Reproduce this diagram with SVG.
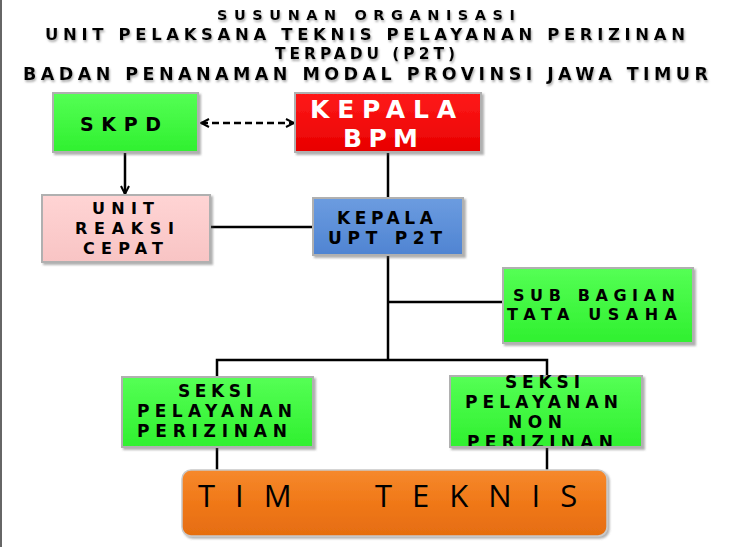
<svg xmlns="http://www.w3.org/2000/svg" width="739" height="547" viewBox="0 0 739 547">
<style>
  .t { font-family: "DejaVu Sans", "Liberation Sans", sans-serif; font-weight: bold; fill: #000; }
  .w { fill: #fff; }
  .title { filter: url(#tsh); }
  .box { stroke: #b0b0b0; stroke-width: 2; filter: url(#bsh); }
  .line { stroke: #000; stroke-width: 2.5; fill: none; }
  .tim { font-family: "Open Sans", "Liberation Sans", sans-serif; font-weight: normal; font-size: 31px; fill: #000; letter-spacing: 20px; }
</style>
<defs>
  <filter id="tsh" x="-5%" y="-30%" width="110%" height="170%">
    <feDropShadow dx="1" dy="2" stdDeviation="0.8" flood-color="#777" flood-opacity="0.6"/>
  </filter>
  <filter id="bsh" x="-5%" y="-10%" width="112%" height="125%">
    <feDropShadow dx="2" dy="2" stdDeviation="1.2" flood-color="#555" flood-opacity="0.45"/>
  </filter>
  <linearGradient id="gG" x1="0" y1="0" x2="0" y2="1">
    <stop offset="0" stop-color="#55ff55"/><stop offset="1" stop-color="#2ff02f"/>
  </linearGradient>
  <linearGradient id="gR" x1="0" y1="0" x2="0" y2="1">
    <stop offset="0" stop-color="#ff1a1a"/><stop offset="1" stop-color="#e80000"/>
  </linearGradient>
  <linearGradient id="gB" x1="0" y1="0" x2="0" y2="1">
    <stop offset="0" stop-color="#6c9ce0"/><stop offset="1" stop-color="#4f84d2"/>
  </linearGradient>
  <linearGradient id="gP" x1="0" y1="0" x2="0" y2="1">
    <stop offset="0" stop-color="#ffd4d4"/><stop offset="1" stop-color="#f8c4c4"/>
  </linearGradient>
  <linearGradient id="gO" x1="0" y1="0" x2="0" y2="1">
    <stop offset="0" stop-color="#f6892c"/><stop offset="0.5" stop-color="#f07818"/><stop offset="1" stop-color="#e56d10"/>
  </linearGradient>
  <marker id="chev" viewBox="0 0 10 10" refX="9" refY="5" markerWidth="10" markerHeight="10" markerUnits="userSpaceOnUse" orient="auto-start-reverse">
    <path d="M1,1 L9,5 L1,9" fill="none" stroke="#000" stroke-width="2" stroke-dasharray="none"/>
  </marker>
  <clipPath id="clipNon"><rect x="450" y="375" width="192" height="71"/></clipPath>
</defs>
<rect width="739" height="547" fill="#fff"/>
<line x1="1" y1="0" x2="1" y2="547" stroke="#333" stroke-width="1.5"/>

<g id="title" class="title">
  <text class="t" x="217" y="20" font-size="14.5" textLength="298" lengthAdjust="spacing">SUSUNAN ORGANISASI</text>
  <text class="t" x="45" y="40" font-size="16.5" textLength="640" lengthAdjust="spacing">UNIT PELAKSANA TEKNIS PELAYANAN PERIZINAN</text>
  <text class="t" x="275" y="59" font-size="15.5" textLength="180" lengthAdjust="spacing">TERPADU (P2T)</text>
  <text class="t" x="23" y="80" font-size="17.5" textLength="685" lengthAdjust="spacing">BADAN PENANAMAN MODAL PROVINSI JAWA TIMUR</text>
</g>

<g id="connectors">
  <line class="line" x1="201" y1="123" x2="294" y2="123" stroke-dasharray="7 4" marker-start="url(#chev)" marker-end="url(#chev)"/>
  <line class="line" x1="125" y1="152" x2="125" y2="194" marker-end="url(#chev)"/>
  <line class="line" x1="388" y1="152" x2="388" y2="198"/>
  <line class="line" x1="210" y1="227" x2="313" y2="227"/>
  <line class="line" x1="388" y1="255" x2="388" y2="360"/>
  <line class="line" x1="388" y1="302" x2="503" y2="302"/>
  <polyline class="line" points="217,377 217,360 547,360 547,377"/>
  <line class="line" x1="217" y1="447" x2="217" y2="470"/>
  <line class="line" x1="547" y1="447" x2="547" y2="470"/>
</g>

<g id="skpd">
  <rect class="box" x="53" y="93" width="145" height="59" fill="url(#gG)"/>
  <text class="t" x="80" y="131" font-size="19" textLength="81" lengthAdjust="spacing">SKPD</text>
</g>

<g id="kepala-bpm">
  <rect class="box" x="295" y="93" width="186" height="59" fill="url(#gR)"/>
  <text class="t w" x="310" y="118" font-size="25" textLength="146" lengthAdjust="spacing">KEPALA</text>
  <text class="t w" x="343" y="147" font-size="25" textLength="75" lengthAdjust="spacing">BPM</text>
</g>

<g id="unit-reaksi-cepat">
  <rect class="box" x="42" y="195" width="168" height="67" fill="url(#gP)"/>
  <text class="t" x="92" y="214" font-size="16" textLength="62" lengthAdjust="spacing">UNIT</text>
  <text class="t" x="75" y="234" font-size="16" textLength="99" lengthAdjust="spacing">REAKSI</text>
  <text class="t" x="83" y="254" font-size="16" textLength="80" lengthAdjust="spacing">CEPAT</text>
</g>

<g id="kepala-upt">
  <rect class="box" x="313" y="198" width="150" height="57" fill="url(#gB)"/>
  <text class="t" x="337" y="224" font-size="17" textLength="96" lengthAdjust="spacing">KEPALA</text>
  <text class="t" x="328" y="244" font-size="17" textLength="114" lengthAdjust="spacing">UPT P2T</text>
</g>

<g id="sub-bagian">
  <rect class="box" x="503" y="268" width="190" height="75" fill="url(#gG)"/>
  <text class="t" x="513" y="301" font-size="16" textLength="162" lengthAdjust="spacing">SUB BAGIAN</text>
  <text class="t" x="507" y="320" font-size="16" textLength="170" lengthAdjust="spacing">TATA USAHA</text>
</g>

<g id="seksi-perizinan">
  <rect class="box" x="122" y="377" width="191" height="70" fill="url(#gG)"/>
  <text class="t" x="178" y="397" font-size="17" textLength="74" lengthAdjust="spacing">SEKSI</text>
  <text class="t" x="137" y="417" font-size="17" textLength="155" lengthAdjust="spacing">PELAYANAN</text>
  <text class="t" x="137" y="437" font-size="17" textLength="150" lengthAdjust="spacing">PERIZINAN</text>
</g>

<g id="seksi-non-perizinan">
  <rect class="box" x="450" y="376" width="192" height="71" fill="url(#gG)"/>
  <g clip-path="url(#clipNon)">
    <text class="t" x="505" y="388" font-size="17" textLength="75" lengthAdjust="spacing">SEKSI</text>
    <text class="t" x="465" y="408" font-size="17" textLength="153" lengthAdjust="spacing">PELAYANAN</text>
    <text class="t" x="508" y="428" font-size="17" textLength="54" lengthAdjust="spacing">NON</text>
    <text class="t" x="467" y="448" font-size="17" textLength="146" lengthAdjust="spacing">PERIZINAN</text>
  </g>
</g>

<g id="tim-teknis">
  <rect x="182" y="470" width="425" height="66" rx="9" fill="url(#gO)" stroke="#c9c9c9" stroke-width="1.5" filter="url(#bsh)"/>
  <text class="tim" y="507"><tspan x="198">TIM</tspan><tspan x="375">TEKNIS</tspan></text>
</g>
</svg>
